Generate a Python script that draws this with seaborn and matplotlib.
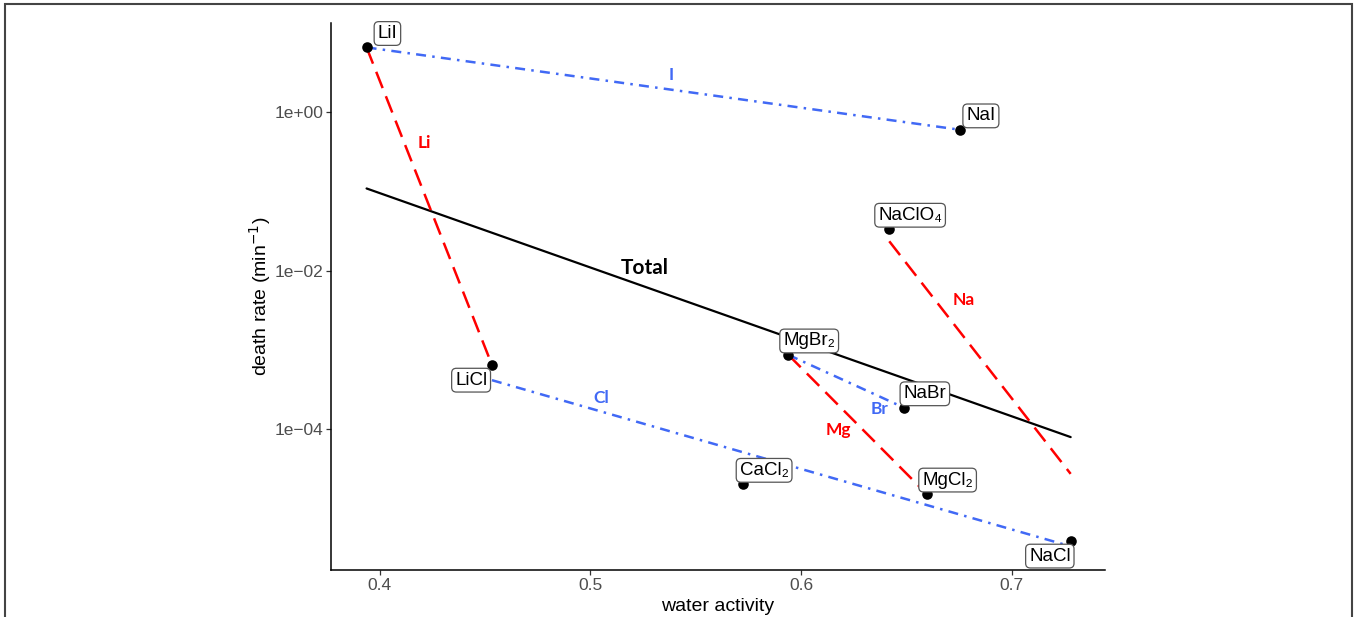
import numpy as np
import pandas as pd
import matplotlib.pyplot as plt
import matplotlib.patches as mpatches
import seaborn as sns

# salts
salts = ["LiI", "NaI", "NaClO\u2084", "LiCl", "MgBr\u2082", "NaBr", "CaCl\u2082", "MgCl\u2082", "NaCl"]
cations = ["Li", "Na", "Na", "Li", "Mg", "Na", "Ca", "Mg", "Na"]
anions = ["I", "I", "ClO4", "Cl", "Br", "Br", "Cl", "Cl", "Cl"]
water_activity = [0.3938, 0.6755, 0.6419, 0.4533, 0.594, 0.6489, 0.5726, 0.6597, 0.728]
death_rate = [6.47, 0.593, 0.0332, 6.47e-4, 8.65e-4, 1.87e-4, 2.03e-5, 1.53e-5, 3.93e-6]
label_below = [False, False, False, True, False, False, False, False, True]

cation_groups = ["Li", "Na", "Mg"]
anion_groups = ["I", "Cl", "Br"]

# where the group names sit (x, y)
group_label_pos = {
    "I": (0.5386, 2.93), "Li": (0.421, 0.406), "Na": (0.6774, 4.27e-3),
    "Mg": (0.6176, 9.8e-5), "Br": (0.6375, 1.8e-4), "Cl": (0.5051, 2.48e-4),
}
total_label_pos = (0.5259, 0.0108)

RED = "#FF0000"
BLUE = "#4169F5"


def fit_line(sub):
    # least squares of log10(rate) on water activity, over the group's range
    coef = np.polyfit(sub["aw"], np.log10(sub["rate"]), 1)
    xs = np.array([sub["aw"].min(), sub["aw"].max()])
    return xs, 10 ** np.polyval(coef, xs)


def main():
    df = pd.DataFrame({"salt": salts, "cation": cations, "anion": anions,
                       "aw": water_activity, "rate": death_rate, "below": label_below})

    sns.set_theme(style="white")
    plt.rcParams["font.family"] = ["Liberation Sans", "DejaVu Sans"]

    fig = plt.figure(figsize=(13.57, 6.17), dpi=100)
    ax = fig.add_axes([0.2439, 0.0762, 0.5704, 0.8865])

    # overall trend
    xs, ys = fit_line(df)
    ax.plot(xs, ys, color="black", lw=1.6, zorder=2)
    ax.text(*total_label_pos, "Total", family=["Lato", "DejaVu Sans"], fontweight="bold",
            fontsize=15, color="black", ha="center", va="center", zorder=3)

    for g in cation_groups:
        xs, ys = fit_line(df[df["cation"] == g])
        ax.plot(xs, ys, color=RED, lw=1.8, dashes=(7, 3.5), zorder=2)
    for g in anion_groups:
        xs, ys = fit_line(df[df["anion"] == g])
        ax.plot(xs, ys, color=BLUE, lw=1.8, dashes=(4, 2.5, 1, 2.5), zorder=2)

    for g, (gx, gy) in group_label_pos.items():
        col = RED if g in cation_groups else BLUE
        ax.text(gx, gy, g, color=col, family=["Lato", "DejaVu Sans"], fontweight="bold",
                fontsize=12.5, ha="center", va="center", zorder=3)

    sns.scatterplot(data=df, x="aw", y="rate", color="black", s=58,
                    edgecolor="black", linewidth=0, ax=ax, zorder=4)

    for _, r in df.iterrows():
        off = (-15, -11) if r["below"] else (15, 10)
        ax.annotate(r["salt"], (r["aw"], r["rate"]), xytext=off, textcoords="offset points",
                    ha="center", va="center", fontsize=13.5, color="black", zorder=5,
                    bbox=dict(boxstyle="round,pad=0.18,rounding_size=0.25",
                              fc="white", ec="#555555", lw=0.9))

    ax.set_yscale("log")
    ax.set_xlim(0.3769, 0.7443)
    ax.set_ylim(10 ** -5.773, 10 ** 1.118)
    ax.set_xticks([0.4, 0.5, 0.6, 0.7])
    ax.set_xticklabels(["0.4", "0.5", "0.6", "0.7"])
    ax.set_yticks([1, 1e-2, 1e-4])
    ax.set_yticklabels(["1e+00", "1e\u221202", "1e\u221204"])
    ax.minorticks_off()
    ax.tick_params(axis="both", which="major", length=3.5, width=0.9, color="#333333",
                   labelcolor="#4D4D4D", labelsize=12.5, direction="out",
                   bottom=True, left=True, pad=2)

    for side in ["top", "right"]:
        ax.spines[side].set_visible(False)
    for side in ["left", "bottom"]:
        ax.spines[side].set_color("black")
        ax.spines[side].set_linewidth(1.1)

    ax.set_xlabel("water activity", fontsize=14, color="black", labelpad=4)
    ax.set_ylabel("death rate (min$^{-1}$)", fontsize=14, color="black", labelpad=1)

    # thin frame around the whole picture
    fig.patches.append(mpatches.Rectangle((5 / 1357, -0.02), 1347 / 1357, 1.0135,
                                          transform=fig.transFigure, fill=False,
                                          ec="#444444", lw=1.5))

    fig.savefig("out.png", dpi=100)


if __name__ == "__main__":
    main()
